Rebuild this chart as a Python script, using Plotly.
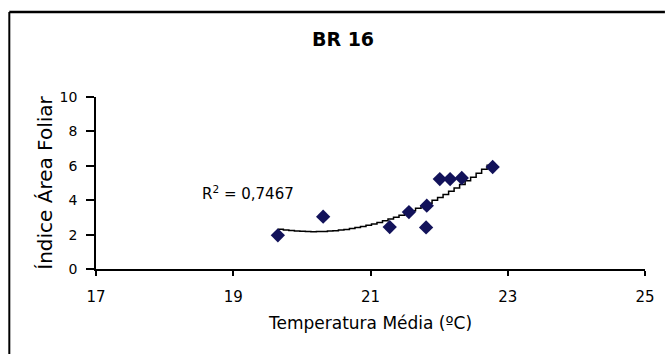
import numpy as np
import plotly.graph_objects as go

# Data
temperatura = [19.65, 20.31, 21.28, 21.56, 21.82, 21.81, 22.01, 22.16, 22.33, 22.78]
iaf = [1.96, 3.04, 2.44, 3.31, 3.68, 2.42, 5.23, 5.23, 5.29, 5.93]
x_ticks = [17, 19, 21, 23, 25]
y_ticks = [0, 2, 4, 6, 8, 10]
titulo = "BR 16"
r2_label = "R<sup>2</sup> = 0,7467"

# Polynomial (order 2) trendline fitted to the data, as in the spreadsheet
coef = np.polyfit(temperatura, iaf, 2)
xt = np.linspace(min(temperatura), max(temperatura), 40)
yt = np.polyval(coef, xt)

fig = go.Figure()
fig.add_trace(go.Scatter(x=xt, y=yt, mode="lines",
                         line=dict(color="black", width=1.5, shape="hv"),
                         hoverinfo="skip", showlegend=False))
fig.add_trace(go.Scatter(x=temperatura, y=iaf, mode="markers",
                         marker=dict(symbol="diamond", size=11, color="#12125a"),
                         showlegend=False))

font = "DejaVu Sans, Verdana, sans-serif"
W, H = 667, 354
L, R, T, B = 96, 20, 97, 85
pw, ph = W - L - R, H - T - B

# outer chart border (top and left edges visible in the reference)
bx0 = (9 - L) / pw
bx1 = (W - L) / pw
by0 = -B / ph
by1 = 1 + (T - 12) / ph
border = [
    dict(type="line", xref="paper", yref="paper", x0=bx0, x1=bx1, y0=by1, y1=by1,
         layer="above", line=dict(color="black", width=2.5)),
    dict(type="line", xref="paper", yref="paper", x0=bx0, x1=bx0, y0=by0, y1=by1,
         layer="above", line=dict(color="black", width=2)),
]

fig.update_layout(
    width=W, height=H,
    margin=dict(l=L, r=R, t=T, b=B),
    paper_bgcolor="white", plot_bgcolor="white",
    font=dict(family=font, size=13, color="black"),
    title=dict(text="<b>" + titulo + "</b>", x=343 / W, xanchor="center",
               y=1 - 39 / H, yanchor="middle", font=dict(size=19, family=font)),
    xaxis=dict(range=[17, 25], tickvals=x_ticks, showgrid=False, zeroline=False,
               showline=True, linecolor="black", linewidth=1.5,
               ticks="outside", ticklen=5, tickcolor="black", tickwidth=1.5,
               tickfont=dict(size=15), ticklabelstandoff=8,
               title=dict(text="Temperatura Média (ºC)", standoff=12,
                          font=dict(size=17))),
    yaxis=dict(range=[0, 10], tickvals=y_ticks, showgrid=False, zeroline=False,
               showline=True, linecolor="black", linewidth=1.5,
               ticks="outside", ticklen=8, tickcolor="black", tickwidth=1.5,
               tickfont=dict(size=14), ticklabelstandoff=6,
               title=dict(text="Índice Área Foliar", standoff=2,
                          font=dict(size=20))),
    shapes=border,
    annotations=[dict(x=19.22, y=4.43, xref="x", yref="y", text=r2_label,
                      showarrow=False, font=dict(size=15, family=font))],
)

fig.write_html("out.html", config={"displayModeBar": False},
               post_script="document.body.style.margin='0';document.body.style.overflow='hidden';")
